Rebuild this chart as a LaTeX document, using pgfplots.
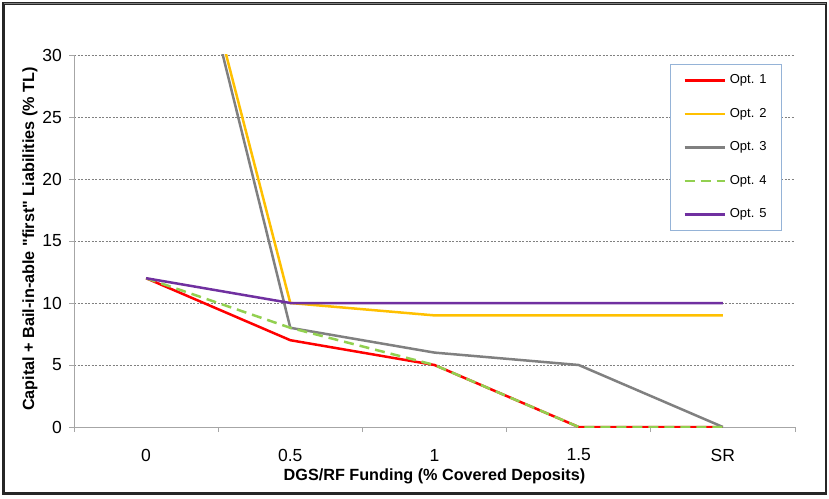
\documentclass[border=0pt]{standalone}
\usepackage{fontspec}
\setmainfont{Liberation Sans}
\usepackage{pgfplots}
\pgfplotsset{compat=1.18}

\definecolor{optred}{HTML}{FF0000}
\definecolor{optorange}{HTML}{FFC000}
\definecolor{optgray}{HTML}{808080}
\definecolor{optgreen}{HTML}{92D050}
\definecolor{optpurple}{HTML}{7030A0}
\definecolor{legblue}{HTML}{95B3D7}
\definecolor{axgray}{HTML}{A6A6A6}

\begin{document}
\begin{tikzpicture}[x=1pt,y=1pt]
\useasboundingbox (0,0) rectangle (829,498);
\begin{axis}[
    scale only axis,
    width=721pt, height=372pt,
    at={(74pt,71pt)}, anchor=south west,
    xmin=-0.5, xmax=4.5,
    ymin=0, ymax=30,
    axis x line=bottom, axis y line=left,
    axis line style={axgray, line width=0.8pt, -},
    xtick={0,1,2,3,4},
    xticklabels={0,0.5,1,1.5,SR},
    minor xtick={-0.5,0.5,1.5,2.5,3.5,4.5},
    major x tick style={draw=none},
    minor tick length=5pt,
    ytick={0,5,...,30},
    major tick length=5pt,
    tick align=outside,
    tick style={axgray, line width=0.8pt},
    ymajorgrids,
    major grid style={gray, dash pattern=on 2pt off 1.5pt, line width=0.8pt},
    /pgf/number format/assume math mode=true,
    tick label style={font=\fontsize{17.5}{19}\selectfont},
    x tick label style={anchor=center, yshift=-23pt},
    y tick label style={anchor=east, inner sep=0pt, xshift=-7pt},
    xlabel={DGS/RF Funding (\% Covered Deposits)},
    ylabel={Capital + Bail-in-able \textquotedbl first\textquotedbl\ Liabilities (\% TL)},
    label style={font=\bfseries\fontsize{16.2}{18}\selectfont},
    xlabel style={at={(axis description cs:0.5,-0.1317)}, anchor=center},
    ylabel style={at={(axis description cs:-0.061,0.505)}, anchor=center},
    legend style={at={(axis description cs:0.8266,0.9758)}, anchor=north west,
        draw=legblue, line width=0.8pt, fill=white,
        font=\fontsize{13}{15}\selectfont,
        inner xsep=13pt, inner ysep=10pt,
        row sep=21.5pt, column sep=2pt,
        nodes={inner xsep=2pt, inner ysep=0pt, text height=9.5pt, text depth=2.5pt}},
    legend cell align=left,
    legend image code/.code={\draw[#1] (0pt,0pt) -- (40pt,0pt);},
    every axis plot/.append style={line width=2.5pt},
]
\addplot[optred] coordinates {(0,12) (1,7) (2,5) (3,0) (4,0)};
\addlegendentry{Opt. 1}
\addplot[optorange] coordinates {(0,55) (1,10) (2,9) (3,9) (4,9)};
\addlegendentry{Opt. 2}
\addplot[optgray] coordinates {(0,55) (1,8) (2,6) (3,5) (4,0)};
\addlegendentry{Opt. 3}
\addplot[optgreen, dash pattern=on 10pt off 6pt] coordinates {(0,12) (1,8) (2,5) (3,0) (4,0)};
\addlegendentry{Opt. 4}
\addplot[optpurple] coordinates {(0,12) (1,10) (2,10) (3,10) (4,10)};
\addlegendentry{Opt. 5}
\end{axis}
\draw[black!85, line width=2.5pt] (3.5,4.5) rectangle (826,494.5);
\draw[gray, line width=1.5pt] (3.5,494.5) -- (826,494.5);
\end{tikzpicture}
\end{document}
